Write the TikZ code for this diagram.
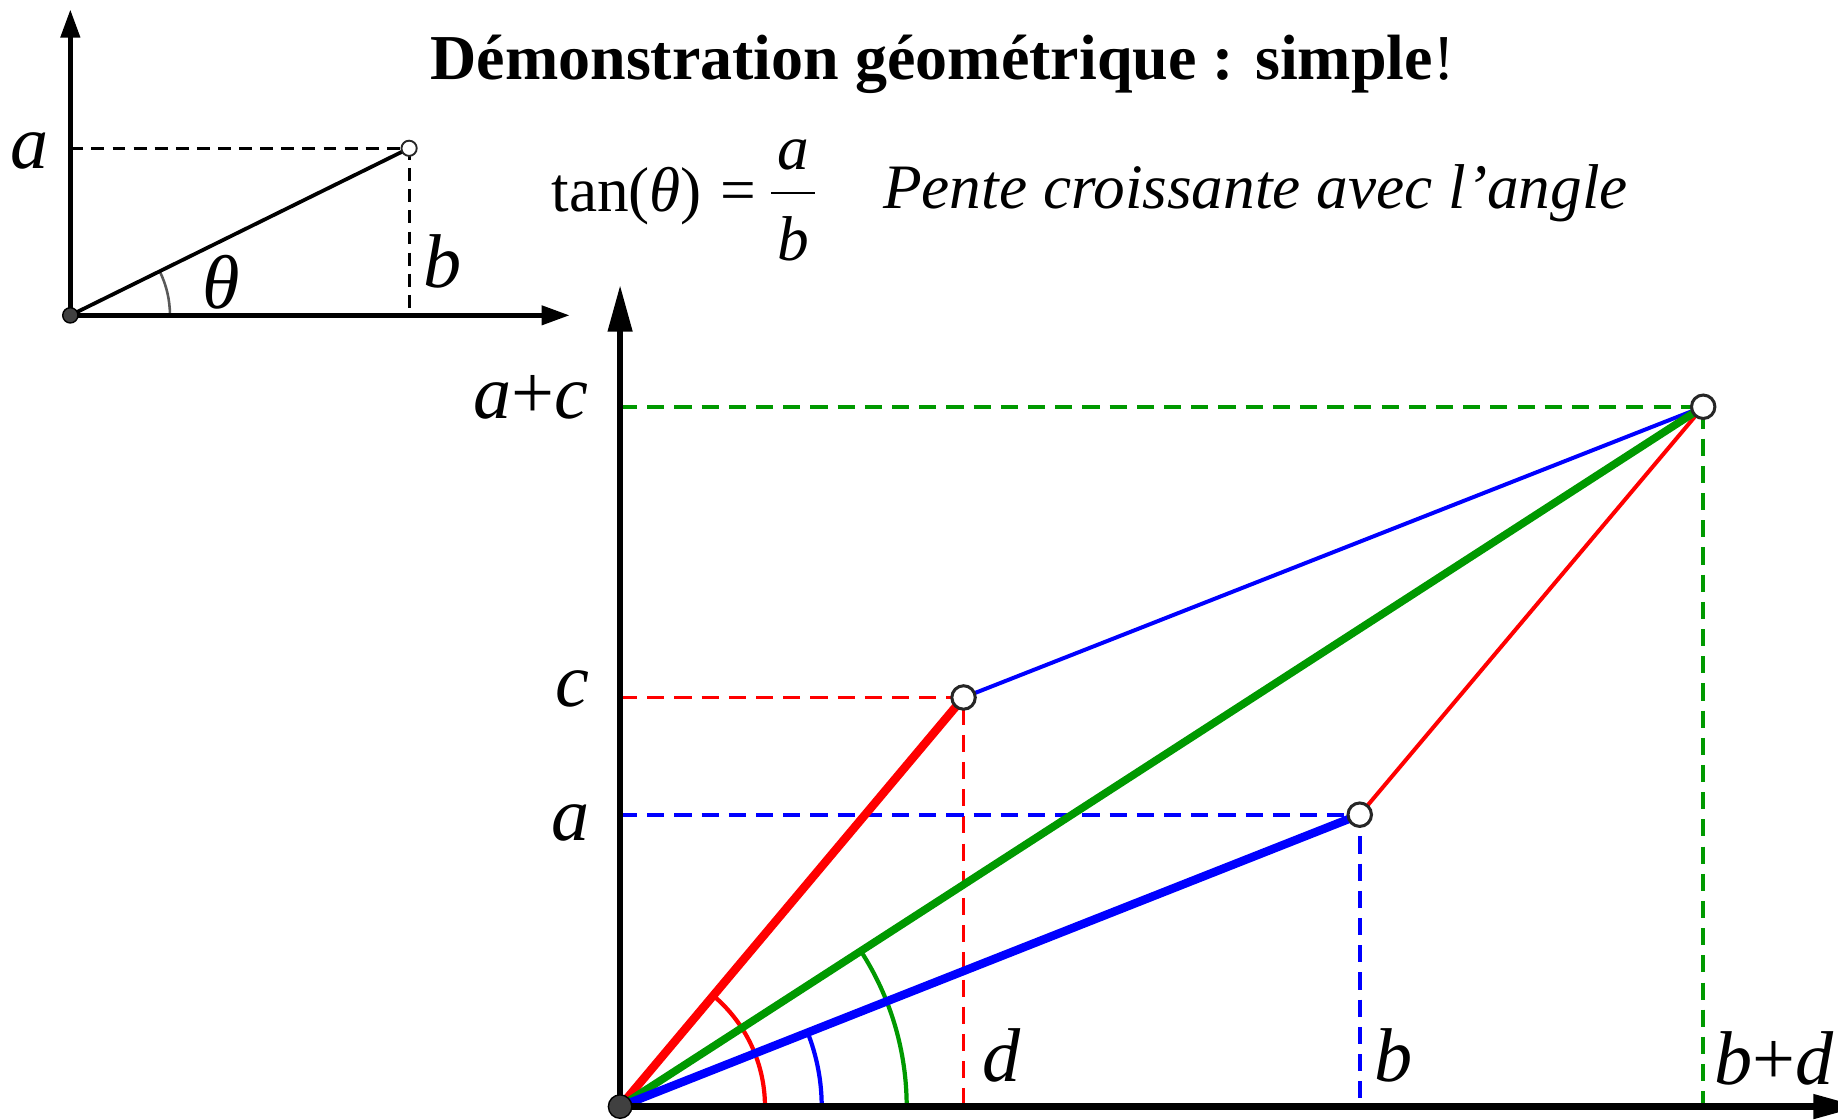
\documentclass[tikz,border=0pt]{standalone}
\usepackage{fontspec}
\setmainfont{Liberation Serif}
\usetikzlibrary{arrows.meta}
\definecolor{cR}{RGB}{255,0,0}
\definecolor{cB}{RGB}{0,0,255}
\definecolor{cG}{RGB}{0,153,0}
\definecolor{dotgray}{RGB}{64,64,64}
\begin{document}
\begin{tikzpicture}[x=0.5pt,y=-0.5pt,
  axisbig/.style={line width=2.7pt, -{Triangle[length=20pt,width=10pt]}},
  axissmall/.style={line width=2.1pt, -{Triangle[length=12pt,width=8pt]}},
  dashbig/.style={line width=1.55pt, dash pattern=on 7.3pt off 4.3pt},
  dashsmall/.style={line width=1.2pt, dash pattern=on 5.5pt off 3.5pt},
  thickseg/.style={line width=3.6pt},
  thinseg/.style={line width=1.7pt},
  anglearc/.style={line width=1.8pt},
  opencirc/.style={circle, draw=black!85, fill=white, line width=1.3pt, minimum size=10pt, inner sep=0pt},
  opensmall/.style={circle, draw=black!85, fill=white, line width=0.8pt, minimum size=6.5pt, inner sep=0pt},
  origdot/.style={circle, draw=black, fill=dotgray, line width=0.6pt, minimum size=10pt, inner sep=0pt},
  lbl/.style={inner sep=0pt, font=\fontsize{32.5}{36}\selectfont\itshape},
  headtxt/.style={inner sep=0pt, font=\fontsize{27}{30}\selectfont},
  ]
\useasboundingbox (0,0) rectangle (1568,955);

% ---------- small diagram ----------
\coordinate (O1) at (60,269);
\coordinate (P1) at (349,126.5);
\coordinate (Y1) at (60,126.5);
\coordinate (X1) at (349,269);
\coordinate (O1bot) at (60,272);
\coordinate (O1top) at (60,8);
\coordinate (O1left) at (57,269);
\coordinate (O1right) at (486,269);

\draw[dashsmall] (Y1) -- (P1) -- (X1);
\draw[line width=1.1pt, black!65] ([xshift=42.5pt]O1) arc[start angle=0,end angle=26.25,radius=42.5pt];
\draw[axissmall] (O1bot) -- (O1top);
\draw[axissmall] (O1left) -- (O1right);
\draw[line width=1.6pt] (O1) -- (P1);
\node[origdot, minimum size=6.5pt] (o1dot) at (O1) {};
\node[opensmall] (p1c) at (P1) {};

\node[lbl, anchor=base east] (la1) at (42,144) {a};
\node[lbl, anchor=base west] (lt1) at (172,263) {θ};
\node[lbl, anchor=base west] (lb1) at (361,245) {b};

% ---------- header ----------
\node[inner sep=0pt, anchor=base, font=\fontsize{27.3}{30}\selectfont\bfseries] (title) at (804,68) {Démonstration géométrique : simple\textmd{!}};
\node[headtxt, anchor=base west] (tan) at (470,180) {tan(\textit{θ})};
\node[headtxt, anchor=base west] (eq) at (614,180) {=};
\node[headtxt, anchor=base, font=\fontsize{27}{30}\selectfont\itshape] (num) at (677,145) {a};
\node[headtxt, anchor=base, font=\fontsize{27}{30}\selectfont\itshape] (den) at (677,222) {b};
\coordinate (barL) at (658,164.6);
\coordinate (barR) at (695,164.6);
\draw[line width=1pt] (barL) -- (barR);
\node[headtxt, anchor=base west, font=\fontsize{27}{30}\selectfont\itshape] (pente) at (753,178) {Pente croissante avec l’angle};

% ---------- big diagram ----------
\coordinate (O) at (529,944);
\coordinate (Pc) at (822,595);
\coordinate (Pa) at (1160,695);
\coordinate (Ps) at (1453,347);
\coordinate (Yc) at (529,595);
\coordinate (Ya) at (529,695);
\coordinate (Ys) at (529,347);
\coordinate (Xc) at (822,944);
\coordinate (Xa) at (1160,944);
\coordinate (Xs) at (1453,944);
\coordinate (Ybot) at (529,950);
\coordinate (Ytop) at (529,243);
\coordinate (Xleft) at (523,944);
\coordinate (Xright) at (1587,944);

\draw[dashbig, cG] (Ys) -- (Ps) -- (Xs);
\draw[dashbig, cR] (Yc) -- (Pc) -- (Xc);
\draw[dashbig, cB] (Ya) -- (Pa) -- (Xa);

\draw[anglearc, cR] ([xshift=61.8pt]O) arc[start angle=0,end angle=49.98,radius=61.8pt];
\draw[anglearc, cB] ([xshift=86pt]O) arc[start angle=0,end angle=21.54,radius=86pt];
\draw[anglearc, cG] ([xshift=122.25pt]O) arc[start angle=0,end angle=32.87,radius=122.25pt];

\draw[thickseg, cR] (O) -- (Pc);
\draw[thinseg, cB] (Pc) -- (Ps);
\draw[thinseg, cR] (Pa) -- (Ps);
\draw[thickseg, cG, line width=3.3pt] (O) -- (Ps);
\draw[thickseg, cB] (O) -- (Pa);

\draw[axisbig] (Ybot) -- (Ytop);
\draw[axisbig] (Xleft) -- (Xright);

\node[origdot] (odot) at (O) {};
\node[opencirc] (pcc) at (Pc) {};
\node[opencirc] (pac) at (Pa) {};
\node[opencirc] (psc) at (Ps) {};

\node[lbl, anchor=base east] (lac) at (502,357) {a\textup{+}c};
\node[lbl, anchor=base east] (lc) at (503,603) {c};
\node[lbl, anchor=base east] (la) at (503,717) {a};
\node[lbl, anchor=base west] (ld) at (838,923) {d};
\node[lbl, anchor=base west] (lb) at (1172,923) {b};
\node[lbl, anchor=base west] (lbd) at (1462,925) {b\textup{+}d};
\end{tikzpicture}
\end{document}
